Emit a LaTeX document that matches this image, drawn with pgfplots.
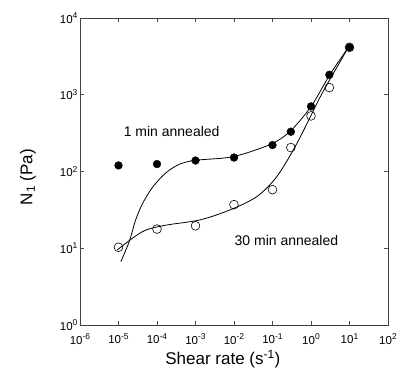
\documentclass[border=0pt]{standalone}
\usepackage{fontspec}
\setmainfont{Liberation Sans}
\usepackage{pgfplots}
\pgfplotsset{compat=1.18}
\newcommand{\p}[1]{10\raisebox{0.75ex}{\fontsize{8.5}{9}\selectfont #1}}
\begin{document}
\begin{tikzpicture}
\useasboundingbox (-80pt,-56pt) rectangle (320pt,325pt);
\begin{axis}[
  at={(0pt,0pt)}, anchor=south west,
  scale only axis, width=308pt, height=307pt,
  xmode=log, ymode=log,
  xmin=1e-6, xmax=1e2, ymin=1, ymax=1e4,
  xtick={1e-6,1e-5,1e-4,1e-3,1e-2,1e-1,1,10,100},
  xticklabels={\p{-6},\p{-5},\p{-4},\p{-3},\p{-2},\p{-1},\p{0},\p{1},\p{2}},
  ytick={1,10,100,1000,10000},
  yticklabels={\p{0},\p{1},\p{2},\p{3},\p{4}},
  xminorticks=false, yminorticks=false,
  tick align=inside, major tick length=4pt,
  tick style={black!70, line width=0.6pt},
  axis line style={black!75, line width=0.8pt},
  ticklabel style={font=\fontsize{11.5}{13}\selectfont},
  xticklabel style={yshift=-5pt},
  yticklabel style={xshift=1pt},
  xlabel={Shear rate (s\textsuperscript{-1})},
  ylabel={N\textsubscript{1} (Pa)},
  label style={font=\fontsize{17}{20}\selectfont},
  xlabel style={at={(axis description cs:0.464,-0.111)}, anchor=center},
  ylabel style={at={(axis description cs:-0.169,0.482)}, anchor=center},
  clip=false,
]
% fitted curves
\addplot[black, line width=0.8pt, smooth, no marks] coordinates {
(1.15e-5,6.7) (1.9e-5,12.2) (2.8e-5,23.5) (4.3e-5,39) (7.8e-5,63) (1.7e-4,96) (3.8e-4,124) (1e-3,140) (9.5e-3,156) (8.7e-2,225) (0.28,330) (1,700) (3,1780) (9.5,4200)
};
\addplot[black, line width=0.8pt, smooth, no marks] coordinates {
(9.3e-6,9.5) (2.3e-5,13.5) (5.2e-5,17.3) (1.7e-4,20) (1.3e-3,23.4) (7.9e-3,31.6) (3.9e-2,47) (0.13,86) (0.44,237) (1.82,980) (5,2400) (9.5,4200)
};
% 1 min annealed
\addplot[only marks, mark=*, mark size=3.9pt, black] coordinates {
(1e-5,120) (1e-4,125) (1e-3,139) (1e-2,152) (1e-1,221) (0.3,330) (1,705) (3,1820) (10,4150)
};
% 30 min annealed
\addplot[only marks, mark=o, mark size=4.4pt, black, line width=0.6pt] coordinates {
(1e-5,10.3) (1e-4,17.8) (1e-3,19.6) (1e-2,37) (1e-1,58) (0.3,205) (1,530) (3,1240) (10,4150)
};
\node[font=\fontsize{14}{16}\selectfont] at (axis cs:2.4e-4,330) {1 min annealed};
\node[font=\fontsize{14}{16}\selectfont] at (axis cs:0.23,12.6) {30 min annealed};
\end{axis}
\end{tikzpicture}
\end{document}
